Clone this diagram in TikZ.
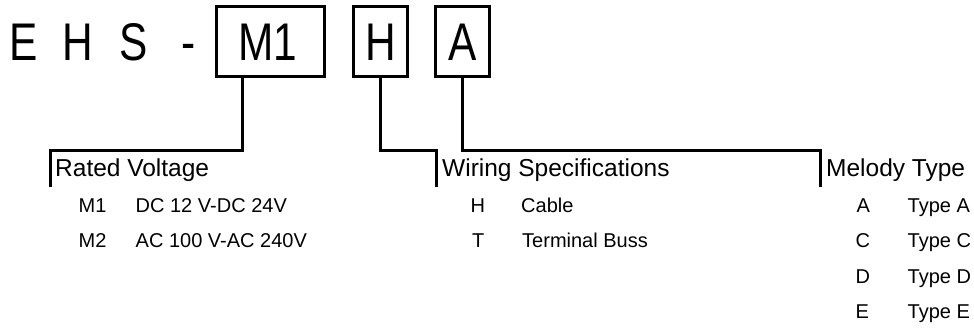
\documentclass[tikz,border=0pt]{standalone}
\usepackage{fontspec}
\setmainfont{Liberation Sans}
\newfontfamily\narrowfont{Liberation Sans}[FakeStretch=0.8]
\begin{document}
\begin{tikzpicture}[x=1pt,y=-1pt,
  big/.style={font=\narrowfont\fontsize{53}{60}\selectfont, inner sep=0pt, anchor=base},
  head/.style={font=\fontsize{24.5}{28}\selectfont, inner sep=0pt, anchor=base west},
  item/.style={font=\fontsize{20}{24}\selectfont, inner sep=0pt, anchor=base west},
  codebox/.style={draw, line width=3pt, minimum height=70pt, inner sep=0pt},
  conn/.style={line width=3pt, line join=miter}]
\useasboundingbox (0,0) rectangle (974,329);
% fixed letters
\node[big] (e) at (24,60) {E};
\node[big] (h) at (77.5,60) {H};
\node[big] (s) at (133.5,60) {S};
\node[big] (dash) at (189,60) {-};
% boxes
\node[codebox, minimum width=108pt] (bm) at (270.5,41.5) {};
\node[codebox, minimum width=54pt] (bh) at (380.5,41.5) {};
\node[codebox, minimum width=54pt] (ba) at (462.5,41.5) {};
\node[big] (tm) at (268,60) {M1};
\node[big] (th) at (380.5,60) {H};
\node[big] (ta) at (463,60) {A};
% headings
\node[head] (rv) at (55,176) {Rated Voltage};
\node[head] (ws) at (442,176) {Wiring Specifications};
\node[head] (mt) at (826,176) {Melody Type};
% bracket coordinates
\coordinate (m1tap) at (242,76.5);
\coordinate (rvend) at (50,187);
\coordinate (wsend) at (436,187);
\coordinate (mtend) at (820,187);
\draw[conn] (m1tap) -- (242,150) -| (rvend);
\draw[conn] (bh.south) -- (380.5,150) -| (wsend);
\draw[conn] (ba.south) -- (462.5,150) -| (mtend);
% items
\node[item] (r1c) at (78.5,212) {M1};
\node[item] (r1t) at (135.5,212) {DC 12 V-DC 24V};
\node[item] (r2c) at (78.5,247) {M2};
\node[item] (r2t) at (135.5,247) {AC 100 V-AC 240V};
\node[item] (w1c) at (470.5,212) {H};
\node[item] (w1t) at (521,212) {Cable};
\node[item] (w2c) at (472,247) {T};
\node[item] (w2t) at (522,247) {Terminal Buss};
\node[item] (m1c) at (856.5,212) {A};
\node[item] (m1t) at (907.5,212) {Type A};
\node[item] (m2c) at (855.5,247) {C};
\node[item] (m2t) at (907.5,247) {Type C};
\node[item] (m3c) at (855.5,283) {D};
\node[item] (m3t) at (907.5,283) {Type D};
\node[item] (m4c) at (855.5,318) {E};
\node[item] (m4t) at (907.5,318) {Type E};
\end{tikzpicture}
\end{document}
